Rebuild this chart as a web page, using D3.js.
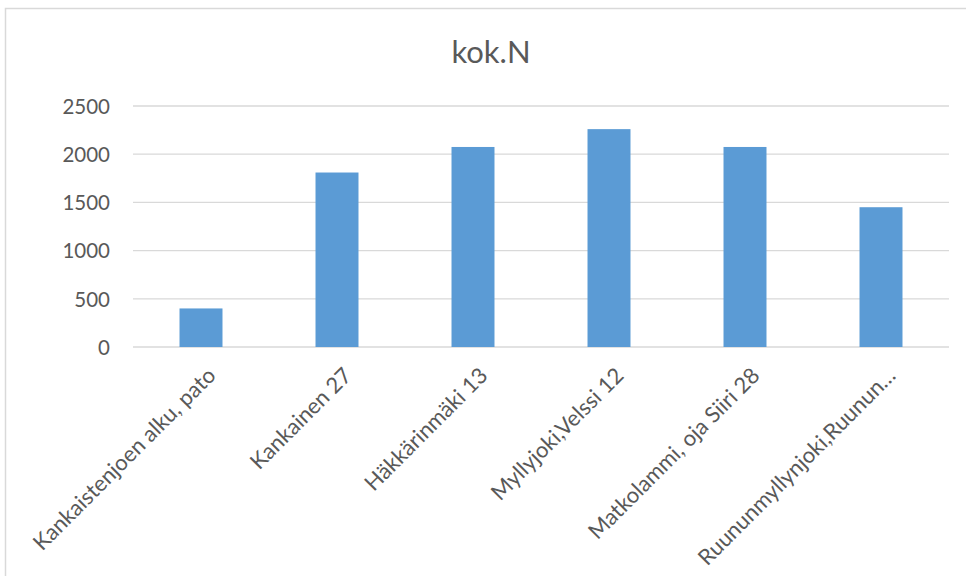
<!DOCTYPE html>
<html>
<head>
<meta charset="utf-8">
<script src="https://cdnjs.cloudflare.com/ajax/libs/d3/7.8.5/d3.min.js"></script>
<style>
    body { margin: 0; background: #fff; }
    text { font-family: Lato, "Open Sans", sans-serif; fill: #595959; }
</style>
</head>
<body>
<div id="chart"></div>
<script>
// data
var categories = ["Kankaistenjoen alku, pato", "Kankainen 27", "Häkkärinmäki 13",
    "Myllyjoki,Velssi 12", "Matkolammi, oja Siiri 28", "Ruununmyllynjoki,Ruunun…"];
var values = [400, 1810, 2075, 2260, 2075, 1450];
var yTicks = [0, 500, 1000, 1500, 2000, 2500];
var title = "kok.N";

var width = 966, height = 576;
var margin = {top: 106, right: 17, bottom: 229, left: 133};

var svg = d3.select("#chart").append("svg")
    .attr("width", width)
    .attr("height", height);

// chart area border (runs off the right and bottom edge)
svg.append("rect")
    .attr("x", 5.5)
    .attr("y", 8.5)
    .attr("width", width + 20)
    .attr("height", height + 20)
    .attr("fill", "none")
    .attr("stroke", "#d9d9d9")
    .attr("stroke-width", 1.5);

var g = svg.append("g")
    .attr("transform", "translate(" + margin.left + "," + margin.top + ")");

var w = width - margin.left - margin.right;
var h = height - margin.top - margin.bottom;

var x = d3.scaleBand()
    .domain(categories)
    .range([0, w])
    .paddingInner(0.684)
    .paddingOuter(0.342);

var y = d3.scaleLinear()
    .domain([0, 2500])
    .range([h, 0]);

// gridlines
g.selectAll(".grid")
    .data(yTicks)
    .enter()
    .append("line")
    .attr("class", "grid")
    .attr("x1", 0)
    .attr("x2", w)
    .attr("y1", function(d){ return y(d); })
    .attr("y2", function(d){ return y(d); })
    .attr("stroke", "#d9d9d9")
    .attr("stroke-width", 1.3);

// y axis labels
var yAxis = d3.axisLeft(y)
    .tickValues(yTicks)
    .tickFormat(d3.format("d"))
    .tickSize(0)
    .tickPadding(23);

var yg = g.append("g")
    .attr("class", "axis y-axis")
    .call(yAxis);
yg.select(".domain").remove();
yg.selectAll("text")
    .style("font-size", "20.5px")
    .attr("fill", "#595959")
    .attr("dy", "0.36em");

// bars
g.selectAll(".bar")
    .data(values)
    .enter()
    .append("rect")
    .attr("class", "bar")
    .attr("x", function(d, i){ return x(categories[i]); })
    .attr("y", function(d){ return y(d); })
    .attr("width", x.bandwidth())
    .attr("height", function(d){ return h - y(d); })
    .attr("fill", "#5b9bd5");

// x axis labels, rotated
var xAxis = d3.axisBottom(x)
    .tickSize(0)
    .tickPadding(0);

var xg = g.append("g")
    .attr("class", "axis x-axis")
    .attr("transform", "translate(0," + h + ")")
    .call(xAxis);
xg.select(".domain").remove();
xg.selectAll("text")
    .style("font-size", "22px")
    .attr("fill", "#595959")
    .attr("text-anchor", "end")
    .attr("dy", 0)
    .attr("transform", "translate(16,30) rotate(-45)");

// title
svg.append("text")
    .attr("x", 491)
    .attr("y", 63)
    .attr("text-anchor", "middle")
    .style("font-size", "31px")
    .text(title);
</script>
</body>
</html>
